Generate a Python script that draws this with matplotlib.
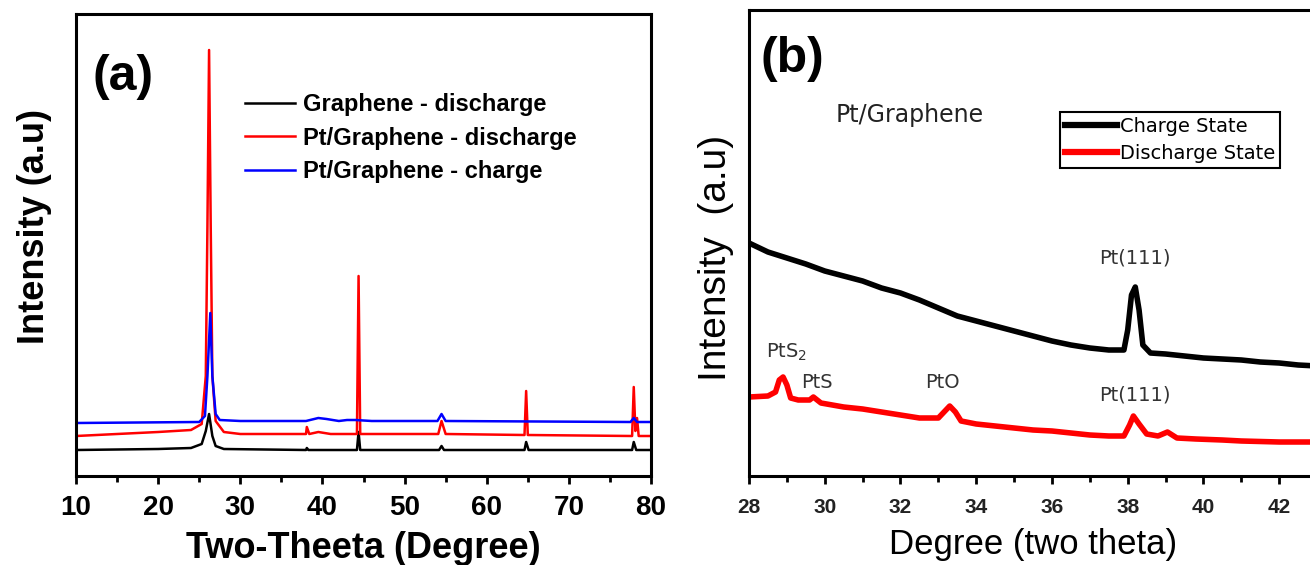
import matplotlib
matplotlib.use("Agg")
import matplotlib.pyplot as plt
from matplotlib.ticker import MultipleLocator
from matplotlib.lines import Line2D

plt.rcParams['font.family'] = ['Liberation Sans', 'DejaVu Sans']

# ---- (a) full-range XRD patterns, offset traces ----
g_dis_x = [10, 20, 24, 25.3, 25.8, 26.2, 26.6, 27, 28, 38, 38.1, 38.3, 44.2, 44.4, 44.6,
           54.2, 54.5, 54.8, 64.6, 64.8, 65.1, 77.7, 77.9, 78.2, 80]
g_dis_y = [26, 27, 28, 32, 45, 62, 40, 30, 27, 26, 28, 26, 26, 44, 26,
           26, 30, 26, 26, 34, 26, 26, 34, 26, 26]

pt_dis_x = [10, 20, 24, 25.3, 25.8, 26.0, 26.2, 26.4, 26.6, 27, 28, 30, 38, 38.1, 38.4, 39.5, 41,
            44.2, 44.4, 44.6, 54.1, 54.5, 55, 64.6, 64.8, 65, 77.7, 77.9, 78.1, 78.3, 78.5, 80]
pt_dis_y = [40, 44, 46, 52, 100, 250, 426, 250, 100, 55, 44, 42, 42, 49, 42, 44, 42,
            42, 200, 42, 42, 55, 42, 41, 85, 41, 40, 89, 45, 58, 40, 40]

pt_chg_x = [10, 25, 25.7, 26.0, 26.35, 26.6, 27, 27.5, 30, 38, 39.5, 40.5, 42, 43, 44, 46,
            54, 54.5, 55, 77.5, 77.9, 78.3, 80]
pt_chg_y = [53, 54, 60, 100, 163, 100, 62, 56, 55, 55, 58, 57, 55, 56, 56, 55,
            55, 62, 55, 54, 58, 54, 54]

a_labels = ['Graphene - discharge', 'Pt/Graphene - discharge', 'Pt/Graphene - charge']

# ---- (b) zoomed region 28-43.5 degrees ----
chg_x = [28.0, 28.5, 29.0, 29.5, 30.0, 30.5, 31.0, 31.5, 32.0, 32.5, 33.0, 33.5, 34.0, 34.5,
         35.0, 35.5, 36.0, 36.5, 37.0, 37.5, 37.9, 38.0, 38.1, 38.2, 38.3, 38.4, 38.6, 39.0,
         39.5, 40.0, 40.5, 41.0, 41.5, 42.0, 42.5, 43.0, 43.5]
chg_y = [233, 224, 218, 212, 205, 200, 195, 188, 183, 176, 168, 160, 155, 150,
         145, 140, 135, 131, 128, 126, 126, 146, 181, 189, 166, 131, 123, 122,
         120, 118, 117, 116, 114, 113, 111, 110, 109]

dis_x = [28.0, 28.5, 28.7, 28.8, 28.9, 29.0, 29.1, 29.3, 29.6, 29.7, 29.9, 30.5, 31.0, 31.5,
         32.0, 32.5, 33.0, 33.2, 33.3, 33.45, 33.6, 34.0, 34.5, 35.0, 35.5, 36.0, 36.5, 37.0,
         37.5, 37.9, 38.05, 38.15, 38.3, 38.5, 38.8, 39.05, 39.3, 39.8, 40.5, 41.0, 42.0,
         43.0, 43.5]
dis_y = [79, 80, 84, 96, 99, 91, 78, 76, 76, 79, 73, 69, 67, 64,
         61, 58, 58, 66, 70, 64, 55, 52, 50, 48, 46, 45, 43, 41,
         40, 40, 51, 60, 52, 42, 40, 44, 38, 37, 36, 35, 34,
         34, 33]

b_labels = ['Charge State', 'Discharge State']
b_peaks = [('Pt(111)', 38.18, 218), ('Pt(111)', 38.18, 81), ('PtS$_2$', 29.0, 124),
           ('PtS', 29.8, 93), ('PtO', 33.1, 93)]

fig = plt.figure(figsize=(13.1, 5.65), dpi=100)

# panel (a)
ax1 = fig.add_axes([76 / 1310, 89 / 565, 575 / 1310, 462 / 565])
ax1.plot(g_dis_x, g_dis_y, color='black', lw=1.8, label=a_labels[0])
ax1.plot(pt_dis_x, pt_dis_y, color='red', lw=1.8, label=a_labels[1])
ax1.plot(pt_chg_x, pt_chg_y, color='blue', lw=1.8, label=a_labels[2])
ax1.set_xlim(10, 80)
ax1.set_ylim(0, 462)
ax1.set_yticks([])
ax1.xaxis.set_major_locator(MultipleLocator(10))
ax1.xaxis.set_minor_locator(MultipleLocator(5))
ax1.tick_params(axis='x', which='major', direction='out', length=6, width=2, pad=8)
ax1.tick_params(axis='x', which='minor', direction='out', length=4, width=2)
for lab in ax1.get_xticklabels():
    lab.set_fontsize(20)
    lab.set_fontweight('bold')
for s in ax1.spines.values():
    s.set_linewidth(2.2)
ax1.set_xlabel('Two-Theeta (Degree)', fontsize=26, fontweight='bold', labelpad=7)
ax1.set_ylabel('Intensity (a.u)', fontsize=26, fontweight='bold')
ax1.yaxis.set_label_coords(-0.042, 0.539)
ax1.text(0.028, 0.864, '(a)', transform=ax1.transAxes, fontsize=36,
         fontweight='bold', va='center', ha='left')
ax1.legend(loc='upper left', bbox_to_anchor=(0.294, 0.829), frameon=False,
           prop={'weight': 'bold', 'size': 17}, handlelength=2.1,
           handletextpad=0.35, labelspacing=0.45, borderpad=0, borderaxespad=0)

# panel (b) -- right part runs off the page edge
ax2 = fig.add_axes([749 / 1310, 89 / 565, 587 / 1310, 466 / 565])
ax2.plot(chg_x, chg_y, color='black', lw=4)
ax2.plot(dis_x, dis_y, color='red', lw=4)
ax2.set_xlim(28, 43.5)
ax2.set_ylim(0, 466)
ax2.set_yticks([])
ax2.xaxis.set_major_locator(MultipleLocator(2))
ax2.xaxis.set_minor_locator(MultipleLocator(1))
ax2.tick_params(axis='x', which='major', direction='out', length=6, width=2, pad=10)
ax2.tick_params(axis='x', which='minor', direction='out', length=4, width=2)
for lab in ax2.get_xticklabels():
    lab.set_fontsize(15)
    lab.set_fontweight('bold')
    lab.set_color('#222222')
for s in ax2.spines.values():
    s.set_linewidth(2.2)
ax2.set_xlabel('Degree (two theta)', fontsize=25)
ax2.xaxis.set_label_coords(0.484, -0.112)
ax2.set_ylabel('Intensity  (a.u)', fontsize=28)
ax2.yaxis.set_label_coords(-0.026, 0.468)
ax2.text(0.02, 0.895, '(b)', transform=ax2.transAxes, fontsize=36,
         fontweight='bold', va='center', ha='left')
ax2.text(0.148, 0.775, 'Pt/Graphene', transform=ax2.transAxes, fontsize=17,
         family='DejaVu Sans', color='#222222', va='center', ha='left')
for txt, px, py in b_peaks:
    ax2.text(px, py, txt, fontsize=14, family='DejaVu Sans', color='#333333',
             ha='center', va='center')
handles = [Line2D([], [], color='black', lw=4.5), Line2D([], [], color='red', lw=4.5)]
leg = ax2.legend(handles, b_labels, loc='upper left', bbox_to_anchor=(0.53, 0.781),
                 prop={'family': 'DejaVu Sans', 'size': 14}, fancybox=False,
                 edgecolor='black', framealpha=1, handlelength=2.7, handletextpad=0.15,
                 labelspacing=0.4, borderpad=0.25, borderaxespad=0)
leg.get_frame().set_linewidth(1.5)

fig.savefig('out.png', dpi=100)
